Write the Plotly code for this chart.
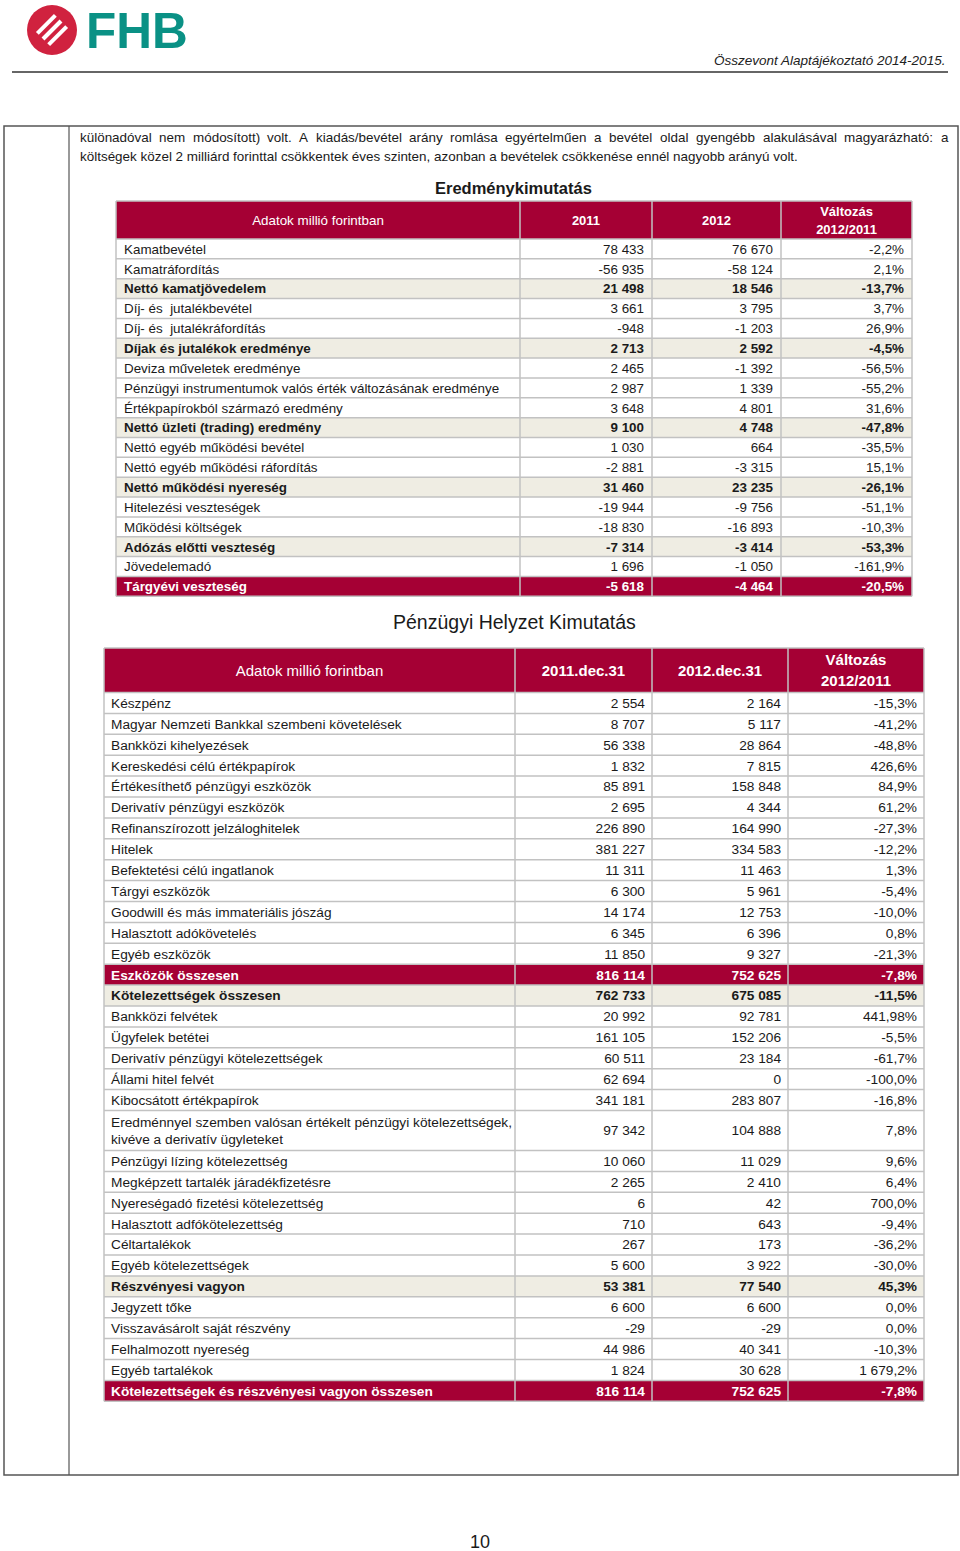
import plotly.graph_objects as go

W, H = 960, 1551
FONT = "Liberation Sans, Arial, sans-serif"
RED = "#A50034"
BEIGE = "#EFEDE3"
TXT = "#1a1a1a"
GRID = "#C2C2C2"
TEXT_DY = 1.5  # scatter 'middle' text sits slightly high; nudge down

# ---------------- Data: Eredménykimutatás ----------------
t1_labels = [
    "Kamatbevétel", "Kamatráfordítás", "Nettó kamatjövedelem", "Díj- és  jutalékbevétel",
    "Díj- és  jutalékráfordítás", "Díjak és jutalékok eredménye", "Deviza műveletek eredménye",
    "Pénzügyi instrumentumok valós érték változásának eredménye", "Értékpapírokból származó eredmény",
    "Nettó üzleti (trading) eredmény", "Nettó egyéb működési bevétel", "Nettó egyéb működési ráfordítás",
    "Nettó működési nyereség", "Hitelezési veszteségek", "Működési költségek",
    "Adózás előtti veszteség", "Jövedelemadó", "Tárgyévi veszteség",
]
t1_2011 = [78433, -56935, 21498, 3661, -948, 2713, 2465, 2987, 3648, 9100, 1030, -2881,
           31460, -19944, -18830, -7314, 1696, -5618]
t1_2012 = [76670, -58124, 18546, 3795, -1203, 2592, -1392, 1339, 4801, 4748, 664, -3315,
           23235, -9756, -16893, -3414, -1050, -4464]
t1_change = [-2.2, 2.1, -13.7, 3.7, 26.9, -4.5, -56.5, -55.2, 31.6, -47.8, -35.5, 15.1,
             -26.1, -51.1, -10.3, -53.3, -161.9, -20.5]
t1_bold = [2, 5, 9, 12, 15]
t1_red = [17]
t1_header = ["Adatok millió forintban", "2011", "2012", "Változás", "2012/2011"]

# ---------------- Data: Pénzügyi Helyzet Kimutatás ----------------
t2_labels = [
    "Készpénz", "Magyar Nemzeti Bankkal szembeni követelések", "Bankközi kihelyezések",
    "Kereskedési célú értékpapírok", "Értékesíthető pénzügyi eszközök", "Derivatív pénzügyi eszközök",
    "Refinanszírozott jelzáloghitelek", "Hitelek", "Befektetési célú ingatlanok", "Tárgyi eszközök",
    "Goodwill és más immateriális jószág", "Halasztott adókövetelés", "Egyéb eszközök",
    "Eszközök összesen", "Kötelezettségek összesen", "Bankközi felvétek", "Ügyfelek betétei",
    "Derivatív pénzügyi kötelezettségek", "Állami hitel felvét", "Kibocsátott értékpapírok",
    "Eredménnyel szemben valósan értékelt pénzügyi kötelezettségek,<br>kivéve a derivatív ügyleteket",
    "Pénzügyi lízing kötelezettség", "Megképzett tartalék járadékfizetésre",
    "Nyereségadó fizetési kötelezettség", "Halasztott adfókötelezettség", "Céltartalékok",
    "Egyéb kötelezettségek", "Részvényesi vagyon", "Jegyzett tőke", "Visszavásárolt saját részvény",
    "Felhalmozott nyereség", "Egyéb tartalékok", "Kötelezettségek és részvényesi vagyon összesen",
]
t2_2011 = [2554, 8707, 56338, 1832, 85891, 2695, 226890, 381227, 11311, 6300, 14174, 6345, 11850,
           816114, 762733, 20992, 161105, 60511, 62694, 341181, 97342, 10060, 2265, 6, 710, 267,
           5600, 53381, 6600, -29, 44986, 1824, 816114]
t2_2012 = [2164, 5117, 28864, 7815, 158848, 4344, 164990, 334583, 11463, 5961, 12753, 6396, 9327,
           752625, 675085, 92781, 152206, 23184, 0, 283807, 104888, 11029, 2410, 42, 643, 173,
           3922, 77540, 6600, -29, 40341, 30628, 752625]
t2_change = [-15.3, -41.2, -48.8, 426.6, 84.9, 61.2, -27.3, -12.2, 1.3, -5.4, -10.0, 0.8, -21.3,
             -7.8, -11.5, 441.98, -5.5, -61.7, -100.0, -16.8, 7.8, 9.6, 6.4, 700.0, -9.4, -36.2,
             -30.0, 45.3, 0.0, 0.0, -10.3, 1679.2, -7.8]
t2_bold = [14, 27]
t2_red = [13, 32]
t2_header = ["Adatok millió forintban", "2011.dec.31", "2012.dec.31", "Változás", "2012/2011"]

para_line1 = ("különadóval nem módosított) volt. A kiadás/bevétel arány romlása egyértelműen a bevétel "
              "oldal gyengébb alakulásával magyarázható: a")
para_line2 = ("költségek közel 2 milliárd forinttal csökkentek éves szinten, azonban a bevételek "
              "csökkenése ennél nagyobb arányú volt.")


def fmt_num(v):
    s = f"{abs(v):,}".replace(",", " ")
    return ("-" if v < 0 else "") + s


def fmt_pct(v):
    s = f"{v:.2f}" if round(v, 1) != v else f"{v:.1f}"
    ip, dp = s.lstrip("-").split(".")
    ip = f"{int(ip):,}".replace(",", " ")
    return ("-" if v < 0 else "") + ip + "," + dp + "%"


# Arial / Liberation Sans advance widths (1/1000 em) for justification of the paragraph
_AW = dict(zip("abcdefghijklmnopqrstuvwxyz",
               [556, 556, 500, 556, 556, 278, 556, 556, 222, 222, 500, 222, 833, 556, 556, 556, 556, 333,
                500, 278, 556, 500, 722, 500, 500, 500]))
_AW.update(dict(zip("ABCDEFGHIJKLMNOPQRSTUVWXYZ",
                    [667, 667, 722, 722, 667, 611, 778, 722, 278, 500, 667, 556, 833, 722, 778, 667, 778, 722,
                     667, 611, 722, 667, 944, 667, 667, 611])))
_AW.update({c: 556 for c in "0123456789"})
_AW.update({" ": 278, ".": 278, ",": 278, ":": 278, "(": 333, ")": 333, "/": 278, "-": 333})
_ACC = str.maketrans("áéíóöőúüűÁÉÍÓÖŐÚÜŰ", "aeiooouuuAEIOOOUUU")


def em_width(s):
    s = s.translate(_ACC)
    return sum(_AW.get(ch, 556) for ch in s) / 1000.0


fig = go.Figure()
shapes = []
ann = []


def add_table(x_edges, head_top, head_h, body_top, pitch, tall_h, labels, a, b, ch, bold, red,
              header, hsizes, bsize, pad_l, pad_r):
    # row geometry
    tops, heights = [], []
    y = body_top
    for lab in labels:
        h = tall_h if "<br>" in lab else pitch
        tops.append(y)
        heights.append(h)
        y += h
    bottom = y
    x0, x1 = x_edges[0], x_edges[-1]
    # header fill
    shapes.append(dict(type="rect", xref="x", yref="y", x0=x0, x1=x1, y0=head_top, y1=body_top,
                       fillcolor=RED, line=dict(width=0), layer="below"))
    # row fills
    for i, (t, h) in enumerate(zip(tops, heights)):
        col = RED if i in red else (BEIGE if i in bold else None)
        if col:
            shapes.append(dict(type="rect", xref="x", yref="y", x0=x0, x1=x1, y0=t, y1=t + h,
                               fillcolor=col, line=dict(width=0), layer="below"))
    # grid lines
    for yy in [head_top, body_top] + [t + h for t, h in zip(tops, heights)]:
        shapes.append(dict(type="line", xref="x", yref="y", x0=x0, x1=x1, y0=yy, y1=yy,
                           line=dict(color=GRID, width=1.5), layer="below"))
    for xx in x_edges:
        shapes.append(dict(type="line", xref="x", yref="y", x0=xx, x1=xx, y0=head_top, y1=bottom,
                           line=dict(color=GRID, width=1.5), layer="below"))
    centers = [t + h / 2 + TEXT_DY for t, h in zip(tops, heights)]
    emph = lambda i, s: f"<b>{s}</b>" if (i in bold or i in red) else s
    colors = ["white" if i in red else TXT for i in range(len(labels))]
    cols = [
        [emph(i, s) for i, s in enumerate(labels)],
        [emph(i, fmt_num(v)) for i, v in enumerate(a)],
        [emph(i, fmt_num(v)) for i, v in enumerate(b)],
        [emph(i, fmt_pct(v)) for i, v in enumerate(ch)],
    ]
    for c in range(4):
        if c == 0:
            xs = [x_edges[0] + pad_l] * len(labels)
            pos = "middle right"
        else:
            xs = [x_edges[c + 1] - pad_r] * len(labels)
            pos = "middle left"
        fig.add_trace(go.Scatter(x=xs, y=centers, mode="text", text=cols[c], textposition=pos,
                                 textfont=dict(family=FONT, size=bsize, color=colors),
                                 hoverinfo="skip", cliponaxis=False, showlegend=False))
    # header texts
    hm = head_top + (body_top - head_top) / 2 + TEXT_DY
    hq = (body_top - head_top) / 4.3
    hx = [(x_edges[k] + x_edges[k + 1]) / 2 for k in range(4)]
    fig.add_trace(go.Scatter(
        x=[hx[0], hx[1], hx[2], hx[3], hx[3]],
        y=[hm, hm, hm, hm - hq, hm + hq],
        text=[header[0], f"<b>{header[1]}</b>", f"<b>{header[2]}</b>", f"<b>{header[3]}</b>",
              f"<b>{header[4]}</b>"],
        mode="text", textposition="middle center",
        textfont=dict(family=FONT, size=hsizes, color="white"),
        hoverinfo="skip", cliponaxis=False, showlegend=False))


add_table([116, 520, 652, 781, 912], 201, 38, 239, 19.85, 39.7, t1_labels, t1_2011, t1_2012, t1_change,
          t1_bold, t1_red, t1_header, [13.4, 13, 13, 13, 13], 13.4, 8, 8)
add_table([104, 515, 652, 788, 924], 648, 44.5, 692.5, 20.9, 40, t2_labels, t2_2011, t2_2012, t2_change,
          t2_bold, t2_red, t2_header, [15, 15, 15, 15, 15], 13.7, 7, 7)

# header rule
shapes.append(dict(type="line", xref="x", yref="y", x0=12, x1=948, y0=72, y1=72,
                   line=dict(color="#333333", width=1.5)))
# outer frame
shapes.append(dict(type="rect", xref="x", yref="y", x0=4, x1=958, y0=126, y1=1475,
                   line=dict(color="#555555", width=1.5)))
shapes.append(dict(type="line", xref="x", yref="y", x0=69, x1=69, y0=126, y1=1475,
                   line=dict(color="#555555", width=1.2)))
# logo
shapes.append(dict(type="circle", xref="x", yref="y", x0=27, x1=77, y0=5, y1=55,
                   fillcolor="#D0223F", line=dict(width=0)))
for d in (-8, 0, 8):
    cx, cy = 52 + d * 0.707, 30 + d * 0.707
    shapes.append(dict(type="line", xref="x", yref="y", x0=cx - 9, y0=cy + 9, x1=cx + 9, y1=cy - 9,
                       line=dict(color="white", width=4)))

ann.append(dict(text="<b>FHB</b>", x=85, y=30, xanchor="left", yanchor="middle",
                font=dict(family=FONT, size=49.5, color="#0A9185")))
ann.append(dict(text="<i>Összevont Alaptájékoztató 2014-2015.</i>", x=946, y=60, xanchor="right",
                yanchor="middle", font=dict(family=FONT, size=13.5, color="#222222")))

# paragraph: second line natural width, first line justified to the column
PARA_X0, PARA_X1, PARA_L2_END = 80, 948, 798
psize = (PARA_L2_END - PARA_X0) / em_width(para_line2)
words = para_line1.split(" ")
wsum = sum(em_width(w) for w in words) * psize
gap = (PARA_X1 - PARA_X0 - wsum) / (len(words) - 1)
xw = PARA_X0
for w in words:
    ann.append(dict(text=w, x=xw, y=137, xanchor="left", yanchor="middle", xshift=-1,
                    font=dict(family=FONT, size=psize, color=TXT)))
    xw += em_width(w) * psize + gap
ann.append(dict(text=para_line2, x=PARA_X0, y=156, xanchor="left", yanchor="middle", xshift=-1,
                font=dict(family=FONT, size=psize, color=TXT)))

ann.append(dict(text="<b>Eredménykimutatás</b>", x=513, y=188, xanchor="center", yanchor="middle",
                font=dict(family=FONT, size=16.5, color=TXT)))
ann.append(dict(text="Pénzügyi Helyzet Kimutatás", x=514, y=622, xanchor="center", yanchor="middle",
                font=dict(family=FONT, size=19.5, color=TXT)))
ann.append(dict(text="10", x=480, y=1542, xanchor="center", yanchor="middle",
                font=dict(family=FONT, size=18, color=TXT)))
for a_ in ann:
    a_.update(xref="x", yref="y", showarrow=False, borderpad=0)

fig.update_layout(width=W, height=H, margin=dict(l=0, r=0, t=0, b=0), paper_bgcolor="white",
                  plot_bgcolor="white", shapes=shapes, annotations=ann, showlegend=False,
                  xaxis=dict(range=[0, W], visible=False, fixedrange=True),
                  yaxis=dict(range=[H, 0], visible=False, fixedrange=True))
fig.write_html("out.html", config={"displayModeBar": False, "staticPlot": True},
               post_script="document.body.style.margin='0';")
